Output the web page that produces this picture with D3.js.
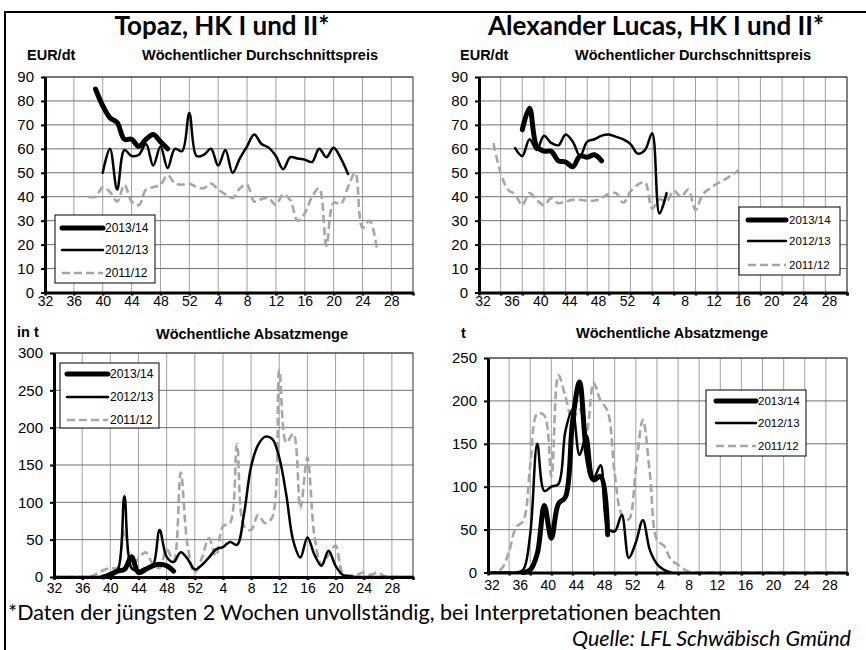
<!DOCTYPE html>
<html>
<head>
<meta charset="utf-8">
<script src="https://cdn.jsdelivr.net/npm/d3@7"></script>
<style>
  body { margin: 0; background: #fff; }
  svg { display: block; }
</style>
</head>
<body>
<svg id="chart" width="866" height="650"></svg>
<script>
"use strict";

// x axis is a category axis: weeks 32..52, then 1..31 of the next year
var weekLabels = ["32", "36", "40", "44", "48", "52", "4", "8", "12", "16", "20", "24", "28"];
var seriesNames = ["2013/14", "2012/13", "2011/12"];

// Topaz, weekly average price (EUR/dt); first week of each series
var topazPriceStart = [39, 40, 38];
var topazPrice1314 = [85, 78, 73, 71, 64, 64, 61, 64, 66, 63, 60];
var topazPrice1213 = [50, 60, 43, 59.5, 57, 57.5, 62, 53, 61, 52, 60, 59, 75, 57, 57.5, 60, 53, 59.5,
    50, 56, 61, 66, 62, 60.5, 57, 51.5, 56.5, 56, 55.5, 54.5, 60, 56.5, 60.5, 56, 49.5];
var topazPrice1112 = [40, 40, 44, 42, 38, 45, 38, 36.5, 43, 44, 45, 49, 45.5, 45, 45.5, 44, 43.5, 45.5,
    43, 41, 39.5, 43.5, 45, 38, 39, 39.5, 36.5, 41, 38.5, 30, 33, 40, 43.5, 19.5, 37.5, 37, 44, 50, 27, 30, 18];

// Alexander Lucas, weekly average price (EUR/dt)
var lucasPriceStart = [38, 37, 34];
var lucasPrice1314 = [68, 77, 61, 59, 59, 55, 54.5, 52.5, 57, 56.5, 57.5, 55];
var lucasPrice1213 = [60.3, 57, 64, 59.5, 65.5, 62.5, 61.5, 66, 63, 57, 63, 64, 65.5, 66, 65, 64, 62, 58,
    59.5, 66.5, 33, 41.5];
var lucasPrice1112 = [62.4, 50, 43, 41, 36.5, 41.5, 38.7, 36.5, 39.4, 37.3, 38, 38.7, 38.7, 38.4, 38.4,
    39.4, 41.2, 41.5, 37.5, 42.2, 45, 46, 35, 39, 38, 42.5, 40, 43, 34.5, 41, 43.5, 45.5, 47, 49, 51];

// Topaz, weekly sales (t)
var topazQtyStart = [39, 32, 32];
var topazQty1314 = [0, 3, 8, 10, 27, 6, 10, 15, 17, 15, 8];
var topazQty1213 = [0, 0, 0, 0, 0, 0, 0, 1, 5, 8, 108, 12, 8, 12, 14, 63, 27, 20, 33, 24, 10, 16, 26, 37,
    40, 47, 43, 85, 148, 177, 188, 185, 160, 110, 48, 26, 53, 30, 15, 35, 15, 3, 1, 0, 0, 0, 0, 0, 0, 0, 0, 0];
var topazQty1112 = [0, 0, 0, 0, 0, 0, 4, 9, 12, 12, 63, 15, 25, 33, 18, 12, 37, 22, 140, 40, 6, 25, 52, 28,
    68, 72, 178, 68, 63, 83, 72, 80, 277, 180, 192, 92, 160, 55, 17, 30, 42, 5, 2, 3, 6, 3, 6, 1, 0, 0, 0, 0];

// Alexander Lucas, weekly sales (t)
var lucasQtyStart = [37, 32, 32];
var lucasQty1314 = [0, 3, 22, 78, 40, 80, 88, 175, 222, 140, 108, 112, 44];
var lucasQty1213 = [0, 0, 0, 0, 0, 3, 45, 150, 95, 100, 103, 165, 190, 137, 160, 110, 125, 52, 48, 67, 17,
    35, 61, 26, 10, 3, 0];
var lucasQty1112 = [0, 0, 5, 25, 53, 60, 125, 185, 183, 112, 230, 205, 178, 190, 165, 221, 200, 188, 115,
    68, 62, 120, 178, 115, 38, 31, 15, 9, 3, 0, 0, 0, 0, 0, 0, 0, 0, 0, 0, 0, 0, 0, 0, 0, 0, 0, 0, 0, 0, 0, 0];

function weekIndex(w) {
    return w >= 32 ? w - 32 : w + 20;
}

function toPoints(start, values) {
    var i0 = weekIndex(start);
    return values.map(function(v, k) { return [i0 + k, v]; });
}

var lineStyles = [
    {width: 5, color: "#000", dash: null},
    {width: 2.5, color: "#000", dash: null},
    {width: 2.6, color: "#a6a6a6", dash: "8,4"}
];

var svg = d3.select("#chart");
var sans = "'Liberation Sans', Arial, sans-serif";
var humanist = "Lato, 'Open Sans', sans-serif";

// outer frame
svg.append("rect")
    .attr("x", 5).attr("y", 12)
    .attr("width", 900).attr("height", 700)
    .attr("fill", "none").attr("stroke", "#000").attr("stroke-width", 2);

var panels = [
    {left: 45, right: 413, top: 77, bottom: 292.5, yMax: 90, yStep: 10, grid: 4, centred: false, xPad: 4,
     series: [toPoints(topazPriceStart[0], topazPrice1314), toPoints(topazPriceStart[1], topazPrice1213),
              toPoints(topazPriceStart[2], topazPrice1112)],
     legend: {x: 55, y: 215, w: 100, h: 68, rows: [13, 35, 58], l1: 7, l2: 48, tx: 50, fs: 12}},
    {left: 479, right: 847, top: 77, bottom: 292.5, yMax: 90, yStep: 10, grid: 3, centred: true, xPad: 4,
     series: [toPoints(lucasPriceStart[0], lucasPrice1314), toPoints(lucasPriceStart[1], lucasPrice1213),
              toPoints(lucasPriceStart[2], lucasPrice1112)],
     legend: {x: 739, y: 207, w: 101, h: 68, rows: [13, 34, 58], l1: 9, l2: 47, tx: 50, fs: 11.5}},
    {left: 54, right: 413, top: 353, bottom: 577, yMax: 300, yStep: 50, grid: 4, centred: false, xPad: 6,
     series: [toPoints(topazQtyStart[0], topazQty1314), toPoints(topazQtyStart[1], topazQty1213),
              toPoints(topazQtyStart[2], topazQty1112)],
     legend: {x: 60, y: 363, w: 99, h: 65, rows: [11, 34, 57], l1: 7, l2: 48, tx: 50, fs: 12}},
    {left: 488, right: 847, top: 358, bottom: 572.5, yMax: 250, yStep: 50, grid: 3, centred: true, xPad: 8,
     series: [toPoints(lucasQtyStart[0], lucasQty1314), toPoints(lucasQtyStart[1], lucasQty1213),
              toPoints(lucasQtyStart[2], lucasQty1112)],
     legend: {x: 706, y: 390, w: 100, h: 66, rows: [11, 33, 56], l1: 10, l2: 50, tx: 52, fs: 11.5}}
];

panels.forEach(drawPanel);

function drawPanel(p) {
    var x = d3.scaleLinear().domain([0, 51]).range([p.left, p.right]);
    var y = d3.scaleLinear().domain([0, p.yMax]).range([p.bottom, p.top]);
    var g = svg.append("g");

    var gridX = d3.range(0, 52, p.grid);
    var gridY = d3.range(p.yStep, p.yMax + 1, p.yStep);

    // vertical grid
    g.append("g").selectAll("line")
        .data(gridX.slice(1))
        .enter().append("line")
        .attr("x1", function(d) { return x(d); })
        .attr("x2", function(d) { return x(d); })
        .attr("y1", p.top).attr("y2", p.bottom)
        .attr("stroke", "#a3a3a3").attr("stroke-width", 1);

    // horizontal grid
    g.append("g").selectAll("line")
        .data(gridY)
        .enter().append("line")
        .attr("x1", p.left).attr("x2", p.right)
        .attr("y1", function(d) { return y(d); })
        .attr("y2", function(d) { return y(d); })
        .attr("stroke", "#707070").attr("stroke-width", 1);

    // plot area border
    g.append("rect")
        .attr("x", p.left).attr("y", p.top)
        .attr("width", p.right - p.left).attr("height", p.bottom - p.top)
        .attr("fill", "none").attr("stroke", "#333").attr("stroke-width", 1);

    var line = d3.line()
        .x(function(d) { return x(d[0]); })
        .y(function(d) { return y(d[1]); })
        .curve(d3.curveCatmullRom);

    // oldest season underneath, current season on top
    [2, 1, 0].forEach(function(s) {
        var st = lineStyles[s];
        g.append("path")
            .datum(p.series[s])
            .attr("d", line)
            .attr("fill", "none")
            .attr("stroke", st.color)
            .attr("stroke-width", st.width)
            .attr("stroke-dasharray", st.dash)
            .attr("stroke-linejoin", "round")
            .attr("stroke-linecap", s === 2 ? "butt" : "round");
    });

    // y axis
    var yAxis = g.append("g")
        .attr("transform", "translate(" + p.left + ",0)")
        .call(d3.axisLeft(y)
            .tickValues(d3.range(0, p.yMax + 1, p.yStep))
            .tickSize(4).tickSizeOuter(0).tickPadding(7));
    yAxis.select(".domain").attr("stroke-width", 3);
    yAxis.selectAll(".tick line").attr("stroke-width", 2);
    yAxis.selectAll(".tick text")
        .attr("font-family", sans).attr("font-size", 15).attr("fill", "#000");

    // x axis: tick marks at the grid, labels every 4 weeks
    var xAxis = g.append("g")
        .attr("transform", "translate(0," + p.bottom + ")")
        .call(d3.axisBottom(x)
            .tickValues(gridX.concat([51]))
            .tickSize(3).tickSizeOuter(0)
            .tickFormat(""));
    xAxis.select(".domain").attr("stroke-width", 3);
    xAxis.selectAll(".tick line").attr("stroke-width", 2.5);

    var labelPos = weekLabels.map(function(w, k) { return k * 4 + (p.centred ? 0.5 : 0); });
    var xLabels = g.append("g")
        .attr("transform", "translate(0," + p.bottom + ")")
        .call(d3.axisBottom(x)
            .tickValues(labelPos)
            .tickSize(0).tickPadding(p.xPad)
            .tickFormat(function(d, k) { return weekLabels[k]; }));
    xLabels.select(".domain").remove();
    xLabels.selectAll(".tick text")
        .attr("font-family", sans).attr("font-size", 14).attr("fill", "#000");

    // legend
    var L = p.legend;
    var lg = g.append("g").attr("transform", "translate(" + L.x + "," + L.y + ")");
    lg.append("rect")
        .attr("width", L.w).attr("height", L.h)
        .attr("fill", "#fff").attr("stroke", "#000").attr("stroke-width", 1);
    seriesNames.forEach(function(name, s) {
        var st = lineStyles[s];
        lg.append("line")
            .attr("x1", L.l1).attr("x2", L.l2)
            .attr("y1", L.rows[s]).attr("y2", L.rows[s])
            .attr("stroke", st.color)
            .attr("stroke-width", st.width)
            .attr("stroke-dasharray", st.dash)
            .attr("stroke-linecap", s === 2 ? "butt" : "round");
        lg.append("text")
            .attr("x", L.tx).attr("y", L.rows[s])
            .attr("dy", "0.35em")
            .attr("font-family", sans).attr("font-size", L.fs)
            .text(name);
    });
}

// titles
var titles = [
    {text: "Topaz, HK I und II*", x: 222},
    {text: "Alexander Lucas, HK I und II*", x: 656}
];
svg.selectAll(".title")
    .data(titles)
    .enter().append("text")
    .attr("class", "title")
    .attr("x", function(d) { return d.x; })
    .attr("y", 35)
    .attr("text-anchor", "middle")
    .attr("font-family", humanist)
    .attr("font-weight", "bold")
    .attr("font-size", 26)
    .text(function(d) { return d.text; });

// panel captions
var captions = [
    {text: "EUR/dt", x: 27, y: 60, anchor: "start"},
    {text: "Wöchentlicher Durchschnittspreis", x: 260, y: 60, anchor: "middle"},
    {text: "EUR/dt", x: 460, y: 60, anchor: "start"},
    {text: "Wöchentlicher Durchschnittspreis", x: 693, y: 60, anchor: "middle"},
    {text: "in t", x: 17, y: 337, anchor: "start"},
    {text: "Wöchentliche Absatzmenge", x: 252, y: 339, anchor: "middle"},
    {text: "t", x: 461, y: 338, anchor: "start"},
    {text: "Wöchentliche Absatzmenge", x: 672, y: 338, anchor: "middle"}
];
svg.selectAll(".caption")
    .data(captions)
    .enter().append("text")
    .attr("class", "caption")
    .attr("x", function(d) { return d.x; })
    .attr("y", function(d) { return d.y; })
    .attr("text-anchor", function(d) { return d.anchor; })
    .attr("font-family", sans)
    .attr("font-weight", "bold")
    .attr("font-size", 14.5)
    .text(function(d) { return d.text; });

// footnote and source
svg.append("text")
    .attr("x", 8).attr("y", 620)
    .attr("font-family", humanist).attr("font-size", 21.5)
    .text("*Daten der jüngsten 2 Wochen unvollständig, bei Interpretationen beachten");
svg.append("text")
    .attr("x", 572).attr("y", 646)
    .attr("font-family", humanist).attr("font-size", 21.5).attr("font-style", "italic")
    .text("Quelle: LFL Schwäbisch Gmünd");
</script>
</body>
</html>
